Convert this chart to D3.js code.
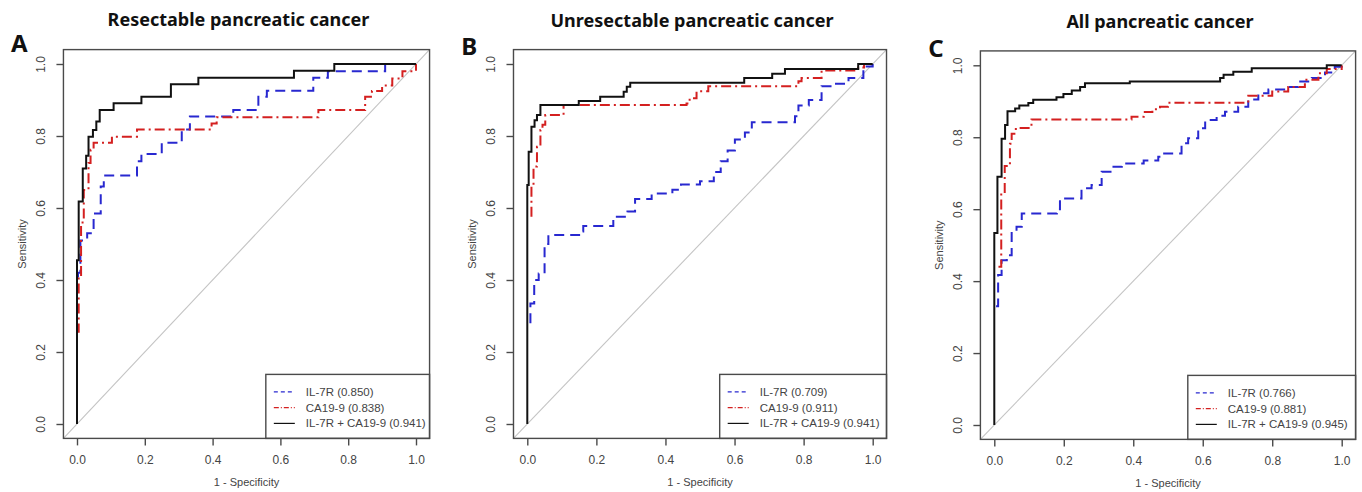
<!doctype html>
<html>
<head>
<meta charset="utf-8">
<title>ROC curves - IL-7R and CA19-9</title>
<style>
  body { margin: 0; background: #fff; }
  .frame { fill: none; stroke: #4a4a4a; stroke-width: 1.4; }
  .diag { stroke: #c4c4c4; stroke-width: 1.1; }
  .lab { font-family: "Liberation Sans", Arial, sans-serif; fill: #444; }
  .title { font-family: "Noto Sans", sans-serif; font-weight: 700; font-size: 18px; fill: #111; }
  .letter { font-family: "Noto Sans", sans-serif; font-weight: 700; font-size: 24px; fill: #111; }
  .roc { fill: none; stroke-width: 2; }
</style>
</head>
<body>
<div id="plot"></div>
<script src="https://d3js.org/d3.v7.min.js"></script>
<script>

// series styles, in legend order
var seriesNames = ["IL-7R", "CA19-9", "IL-7R + CA19-9"];
var seriesColors = ["#2828d0", "#d42020", "#111111"];
var seriesDash = ["10,6", "10,4,2,4", null];
var legendDash = ["4,3", "5,2,1,2", null];

var titles = ["Resectable pancreatic cancer", "Unresectable pancreatic cancer", "All pancreatic cancer"];
var letters = ["A", "B", "C"];
var aucA = ["0.850", "0.838", "0.941"];
var aucB = ["0.709", "0.911", "0.941"];
var aucC = ["0.766", "0.881", "0.945"];

var ticks = [0, 0.2, 0.4, 0.6, 0.8, 1.0];

// ROC corner points [1 - specificity, sensitivity]
// (sensitivity steps up once the x value is reached); the parts of the
// single-marker curves hidden under the combined curve at x = 0 are left out
var rocA_il7r = [[0, 0.41], [0.003, 0.42], [0.01, 0.51], [0.03, 0.53], [0.049, 0.585], [0.07, 0.66], [0.079, 0.69],
  [0.177, 0.73], [0.19, 0.75], [0.25, 0.781], [0.309, 0.818], [0.333, 0.854], [0.461, 0.872], [0.535, 0.909],
  [0.56, 0.926], [0.697, 0.962], [0.74, 0.98], [0.909, 1.0], [1, 1]];
var rocA_ca199 = [[0, 0.256], [0.005, 0.41], [0.012, 0.56], [0.02, 0.65], [0.034, 0.725], [0.04, 0.762], [0.049, 0.781],
  [0.103, 0.798], [0.177, 0.818], [0.397, 0.835], [0.412, 0.852], [0.712, 0.872], [0.85, 0.909], [0.87, 0.925],
  [0.9, 0.94], [0.93, 0.96], [0.96, 0.98], [1, 1]];
var rocA_comb = [[0, 0], [0, 0.455], [0.005, 0.618], [0.017, 0.71], [0.027, 0.745], [0.034, 0.798], [0.047, 0.817], [0.057, 0.84],
  [0.067, 0.872], [0.108, 0.891], [0.19, 0.909], [0.277, 0.944], [0.358, 0.962], [0.64, 0.981], [0.759, 1.0], [1, 1]];

var rocB_il7r = [[0.009, 0.28], [0.009, 0.335], [0.02, 0.40], [0.033, 0.418], [0.05, 0.5], [0.061, 0.525],
  [0.15, 0.535], [0.162, 0.55], [0.249, 0.576], [0.29, 0.59], [0.312, 0.625], [0.36, 0.64], [0.42, 0.651],
  [0.445, 0.665], [0.5, 0.674], [0.54, 0.70], [0.56, 0.73], [0.58, 0.76], [0.601, 0.79], [0.63, 0.81],
  [0.65, 0.838], [0.775, 0.855], [0.785, 0.885], [0.815, 0.9], [0.852, 0.938], [0.89, 0.945], [0.93, 0.961],
  [0.973, 0.993], [1, 1]];
var rocB_ca199 = [[0.012, 0.576], [0.012, 0.66], [0.018, 0.715], [0.028, 0.77], [0.038, 0.817], [0.044, 0.831],
  [0.052, 0.858], [0.105, 0.886], [0.461, 0.89], [0.47, 0.905], [0.49, 0.924], [0.524, 0.938], [0.785, 0.952],
  [0.794, 0.961], [0.852, 0.982], [0.958, 0.99], [0.975, 1.0], [1, 1]];
var rocB_comb = [[0, 0], [0, 0.664], [0.004, 0.756], [0.012, 0.826], [0.021, 0.844], [0.028, 0.858], [0.038, 0.886], [0.149, 0.897],
  [0.211, 0.909], [0.279, 0.923], [0.288, 0.937], [0.298, 0.948], [0.628, 0.961], [0.709, 0.973], [0.746, 0.986],
  [0.958, 1.0], [1, 1]];

var rocC_il7r = [[0.005, 0.33], [0.011, 0.417], [0.021, 0.458], [0.036, 0.472], [0.05, 0.537], [0.064, 0.551],
  [0.079, 0.588], [0.18, 0.6], [0.189, 0.63], [0.251, 0.658], [0.28, 0.667], [0.309, 0.704], [0.338, 0.718],
  [0.367, 0.727], [0.43, 0.735], [0.472, 0.746], [0.485, 0.755], [0.539, 0.783], [0.558, 0.797], [0.587, 0.825],
  [0.607, 0.848], [0.64, 0.86], [0.664, 0.871], [0.702, 0.885], [0.731, 0.905], [0.76, 0.922], [0.789, 0.933],
  [0.846, 0.94], [0.875, 0.955], [0.914, 0.965], [0.952, 0.98], [0.98, 0.996], [1, 1]];
var rocC_ca199 = [[0.012, 0.44], [0.02, 0.644], [0.03, 0.72], [0.045, 0.782], [0.05, 0.81], [0.062, 0.826],
  [0.107, 0.849], [0.395, 0.857], [0.43, 0.87], [0.455, 0.878], [0.477, 0.885], [0.5, 0.896], [0.731, 0.915],
  [0.8, 0.927], [0.846, 0.94], [0.894, 0.96], [0.933, 0.978], [0.957, 0.99], [1, 1]];
var rocC_comb = [[0, 0], [0, 0.534], [0.009, 0.69], [0.021, 0.796], [0.031, 0.834], [0.038, 0.872], [0.06, 0.88], [0.072, 0.888],
  [0.098, 0.895], [0.112, 0.904], [0.179, 0.911], [0.199, 0.92], [0.223, 0.93], [0.247, 0.94], [0.261, 0.95],
  [0.39, 0.955], [0.65, 0.965], [0.66, 0.974], [0.688, 0.982], [0.741, 0.992], [0.957, 1.0], [1, 1]];

// pixel positions of data 0 and 1 on each panel
var panels = [
  { x0: 77, x1: 416, y0: 424, y1: 64, letterY: 52, curves: [rocA_il7r, rocA_ca199, rocA_comb], auc: aucA },
  { x0: 527.3, x1: 872.7, y0: 424, y1: 64, letterY: 55, curves: [rocB_il7r, rocB_ca199, rocB_comb], auc: aucB },
  { x0: 994.3, x1: 1341.7, y0: 425, y1: 65.3, letterY: 57, curves: [rocC_il7r, rocC_ca199, rocC_comb], auc: aucC }
];

var svg = d3.select("#plot").append("svg")
  .attr("width", 1362)
  .attr("height", 492);

panels.forEach(function (p, i) {
  var x = d3.scaleLinear().domain([0, 1]).range([p.x0, p.x1]);
  var y = d3.scaleLinear().domain([0, 1]).range([p.y0, p.y1]);
  // R style 4% padding around the data range
  var left = x(-0.04), right = x(1.04), top = y(1.04), bottom = y(-0.04);

  var g = svg.append("g");

  g.append("text").attr("class", "title")
    .attr("x", (left + right) / 2 - 8).attr("y", 26 + i)
    .attr("text-anchor", "middle")
    .text(titles[i]);

  g.append("text").attr("class", "letter")
    .attr("x", p.x0 - 66).attr("y", p.letterY)
    .text(letters[i]);

  // diagonal reference across the whole plot region
  g.append("line").attr("class", "diag")
    .attr("x1", left).attr("y1", bottom)
    .attr("x2", right).attr("y2", top);

  // axes
  var xAxis = g.append("g")
    .attr("transform", "translate(0," + bottom + ")")
    .call(d3.axisBottom(x).tickValues(ticks).tickFormat(d3.format(".1f")).tickSize(7).tickSizeOuter(0));
  var yAxis = g.append("g")
    .attr("transform", "translate(" + left + ",0)")
    .call(d3.axisLeft(y).tickValues(ticks).tickFormat(d3.format(".1f")).tickSize(7).tickSizeOuter(0));
  [xAxis, yAxis].forEach(function (a) {
    a.select(".domain").remove();
    a.selectAll(".tick line").attr("stroke", "#4a4a4a").attr("stroke-width", 1.4);
    a.selectAll(".tick text").attr("font-size", 12).attr("fill", "#444")
      .attr("font-family", "Liberation Sans, Arial, sans-serif");
  });
  xAxis.selectAll(".tick text").attr("dy", null).attr("y", 26);
  yAxis.selectAll(".tick text")
    .attr("x", null).attr("dy", null)
    .attr("text-anchor", "middle")
    .attr("transform", "translate(-18,0) rotate(-90)");

  g.append("text").attr("class", "lab")
    .attr("x", (p.x0 + p.x1) / 2).attr("y", bottom + 48)
    .attr("text-anchor", "middle").attr("font-size", 11)
    .text("1 - Specificity");
  g.append("text").attr("class", "lab")
    .attr("transform", "translate(" + (p.x0 - 51) + "," + ((p.y0 + p.y1) / 2) + ") rotate(-90)")
    .attr("text-anchor", "middle").attr("font-size", 11)
    .text("Sensitivity");

  // ROC curves
  var line = d3.line()
    .x(function (d) { return x(d[0]); })
    .y(function (d) { return y(d[1]); })
    .curve(d3.curveStepAfter);

  p.curves.forEach(function (c, k) {
    g.append("path")
      .datum(c)
      .attr("class", "roc")
      .attr("stroke", seriesColors[k])
      .attr("stroke-dasharray", seriesDash[k])
      .attr("d", line);
  });

  // legend
  var lx = x(0.557), ly = bottom - 64;
  g.append("rect").attr("class", "frame")
    .attr("x", lx).attr("y", ly)
    .attr("width", right - lx).attr("height", bottom - ly)
    .style("fill", "#fff");
  seriesNames.forEach(function (nm, k) {
    var yy = ly + 17.4 + k * 15.8;
    g.append("line")
      .attr("x1", lx + 8).attr("x2", lx + 29)
      .attr("y1", yy).attr("y2", yy)
      .attr("stroke", seriesColors[k]).attr("stroke-width", 1.2)
      .attr("stroke-dasharray", legendDash[k]);
    g.append("text").attr("class", "lab")
      .attr("x", lx + 40).attr("y", yy + 4)
      .attr("font-size", 11.5)
      .text(nm + " (" + p.auc[k] + ")");
  });

  // plot box
  g.append("rect").attr("class", "frame")
    .attr("x", left).attr("y", top)
    .attr("width", right - left).attr("height", bottom - top);
});
</script>
</body>
</html>
